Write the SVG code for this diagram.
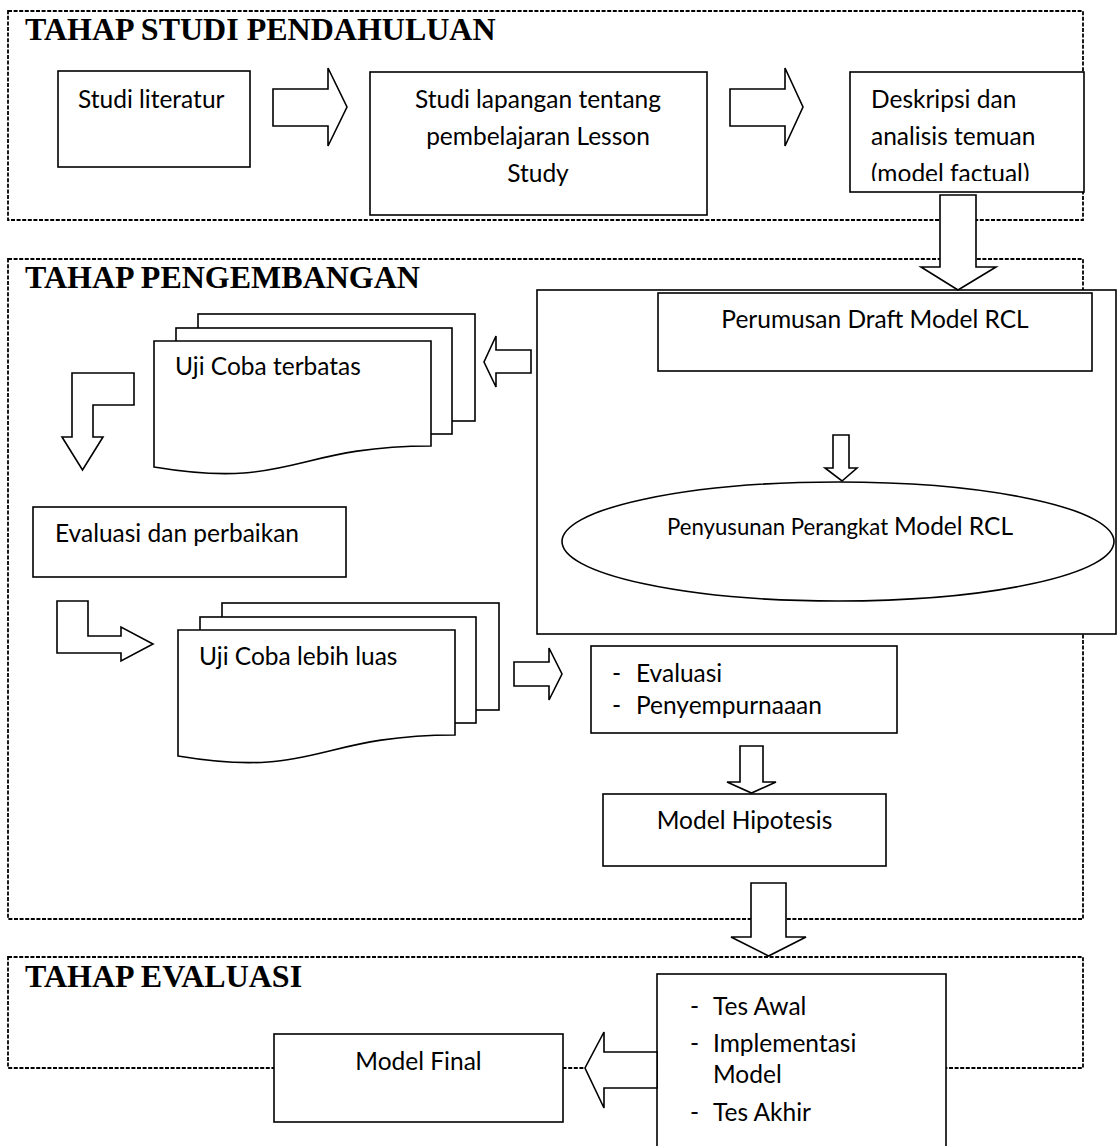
<svg xmlns="http://www.w3.org/2000/svg" xmlns:xlink="http://www.w3.org/1999/xlink" width="1117" height="1146" viewBox="0 0 1117 1146">
<style>
.dash{fill:none;stroke:#000;stroke-width:1.8;stroke-dasharray:4 1.6}
.box{fill:#fff;stroke:#000;stroke-width:1.6}
.arr{fill:#fff;stroke:#000;stroke-width:1.6;stroke-linejoin:miter}
.h{font-family:"Liberation Serif","Times New Roman",serif;font-weight:bold;font-size:32px;fill:#000}
.t{font-family:Lato,"Liberation Sans",sans-serif;font-size:24.5px;fill:#000}
.s{font-size:22.2px}
.c{text-anchor:middle}
</style>
<defs>
<g id="multidoc">
<rect class="box" x="198" y="314" width="277" height="107"/>
<rect class="box" x="176" y="328" width="276" height="106"/>
<path class="box" d="M154,341 H431 V446 C292,446 292,490 154,467 Z"/>
</g>
<clipPath id="clipDesk"><rect x="850" y="72" width="234" height="109"/></clipPath>
</defs>
<rect width="1117" height="1146" fill="#fff"/>

<g id="sections">
<rect class="dash" x="8" y="11" width="1075" height="209"/>
<text class="h" x="25" y="40">TAHAP STUDI PENDAHULUAN</text>
<rect class="dash" x="8" y="259" width="1075" height="660"/>
<text class="h" x="25" y="288">TAHAP PENGEMBANGAN</text>
<rect class="dash" x="8" y="957" width="1075" height="111"/>
<text class="h" x="25" y="987">TAHAP EVALUASI</text>
</g>

<g id="studi-literatur">
<rect class="box" x="58" y="71" width="192" height="96"/>
<text class="t" x="78" y="108">Studi literatur</text>
</g>

<g id="studi-lapangan">
<rect class="box" x="370" y="72" width="337" height="143"/>
<text class="t c" x="538" y="108">Studi lapangan tentang</text>
<text class="t c" x="538" y="145">pembelajaran Lesson</text>
<text class="t c" x="538" y="182">Study</text>
</g>

<g id="deskripsi">
<rect class="box" x="850" y="72" width="234" height="120"/>
<g clip-path="url(#clipDesk)">
<text class="t" x="871" y="108">Deskripsi dan</text>
<text class="t" x="871" y="145">analisis temuan</text>
<text class="t" x="871" y="182">(model factual)</text>
</g>
</g>

<g id="draft-container">
<rect class="box" x="537" y="290" width="579" height="344"/>
</g>

<g id="perumusan">
<rect class="box" x="658" y="293" width="434" height="78"/>
<text class="t c" x="875" y="328">Perumusan Draft Model RCL</text>
</g>

<g id="penyusunan">
<ellipse class="box" cx="838" cy="541.5" rx="276" ry="59.5"/>
<text class="t" x="667" y="535"><tspan class="s">Penyusunan Perangkat </tspan>Model RCL</text>
</g>

<g id="uji-terbatas">
<use xlink:href="#multidoc"/>
<text class="t" x="175" y="375">Uji Coba terbatas</text>
</g>

<g id="evaluasi-perbaikan">
<rect class="box" x="33" y="507" width="313" height="70"/>
<text class="t" x="55" y="542">Evaluasi dan perbaikan</text>
</g>

<g id="uji-luas">
<use xlink:href="#multidoc" transform="translate(24,289)"/>
<text class="t" x="199" y="665">Uji Coba lebih luas</text>
</g>

<g id="evaluasi-penyempurnaan">
<rect class="box" x="591" y="646" width="306" height="87"/>
<text class="t" x="612" y="682">-</text>
<text class="t" x="636" y="682">Evaluasi</text>
<text class="t" x="612" y="714">-</text>
<text class="t" x="636" y="714">Penyempurnaaan</text>
</g>

<g id="model-hipotesis">
<rect class="box" x="603" y="794" width="283" height="72"/>
<text class="t c" x="744.5" y="829">Model Hipotesis</text>
</g>

<g id="implementasi">
<rect class="box" x="657" y="974" width="289" height="180"/>
<text class="t" x="690" y="1015">-</text>
<text class="t" x="713" y="1015">Tes Awal</text>
<text class="t" x="690" y="1052">-</text>
<text class="t" x="713" y="1052">Implementasi</text>
<text class="t" x="713" y="1083">Model</text>
<text class="t" x="690" y="1121">-</text>
<text class="t" x="713" y="1121">Tes Akhir</text>
</g>

<g id="model-final">
<rect class="box" x="274" y="1034" width="289" height="88"/>
<text class="t c" x="418.5" y="1070">Model Final</text>
</g>

<g id="connectors">
<polygon class="arr" points="273,89 328,89 328,68 347,107 328,146 328,126 273,126"/>
<polygon class="arr" points="730,89 785,89 785,68 803,107 785,146 785,126 730,126"/>
<polygon class="arr" points="940,195 976,195 976,267 996,267 958,290 921,267 940,267"/>
<polygon class="arr" points="531,350 496,350 496,336 484,362 496,387 496,373 531,373"/>
<polygon class="arr" points="833,435 849,435 849,468 857,468 842,481 825,468 833,468"/>
<polygon class="arr" points="72,373 134,373 134,405 93,405 93,437 103,437 82.5,470 62,437 72,437"/>
<polygon class="arr" points="57,601 88,601 88,636 121,636 121,627 153,644 121,661 121,653 57,653"/>
<polygon class="arr" points="514,662 549,662 549,648 562,674 549,700 549,686 514,686"/>
<polygon class="arr" points="740,746 763,746 763,782 776,782 751.5,793 727,782 740,782"/>
<polygon class="arr" points="751,883 786,883 786,937 806,937 768.5,956 731,937 751,937"/>
<polygon class="arr" points="657,1052 604,1052 604,1032 585,1068 604,1108 604,1088 657,1088"/>
</g>
</svg>
